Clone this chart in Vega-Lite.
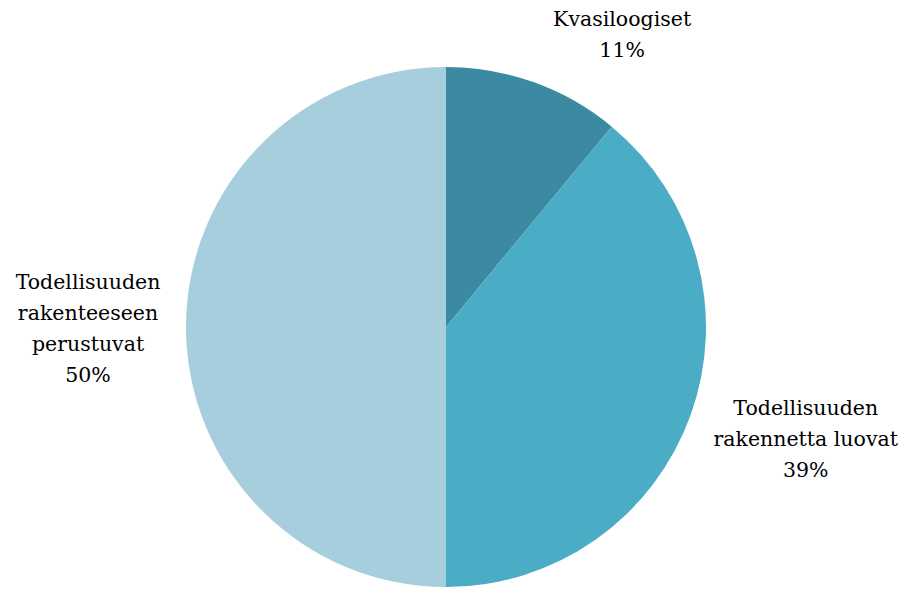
{
  "$schema": "https://vega.github.io/schema/vega-lite/v6.json",
  "width": 892,
  "height": 526,
  "autosize": {"type": "none"},
  "padding": {"left": 0, "top": 64, "right": 11, "bottom": 0},
  "background": "white",
  "config": {"view": {"stroke": null}},
  "data": {
    "values": [
      {"category": "Kvasiloogiset", "name": "Kvasiloogiset", "value": 11, "order": 1},
      {"category": "Todellisuuden rakennetta luovat", "name": "Todellisuuden\nrakennetta luovat", "value": 39, "order": 2},
      {"category": "Todellisuuden rakenteeseen perustuvat", "name": "Todellisuuden\nrakenteeseen\nperustuvat", "value": 50, "order": 3}
    ]
  },
  "transform": [
    {"stack": "value", "groupby": [], "sort": [{"field": "order"}], "as": ["v0", "v1"]},
    {"calculate": "(datum.v0 + datum.v1) / 2", "as": "mid"},
    {"calculate": "datum.name + '\\n' + datum.value + '%'", "as": "label"}
  ],
  "layer": [
    {
      "mark": {"type": "arc", "radius": 260},
      "encoding": {
        "theta": {"field": "v0", "type": "quantitative", "scale": {"domain": [0, 100]}},
        "theta2": {"field": "v1"},
        "color": {
          "field": "category",
          "type": "nominal",
          "legend": null,
          "scale": {
            "domain": ["Kvasiloogiset", "Todellisuuden rakennetta luovat", "Todellisuuden rakenteeseen perustuvat"],
            "range": ["#3B8AA1", "#4BACC6", "#A6CEDC"]
          }
        }
      }
    },
    {
      "transform": [{"filter": "datum.order == 1"}],
      "mark": {"type": "text", "radius": 331, "dx": 64, "dy": 4, "lineBreak": "\n", "font": "DejaVu Serif", "fontSize": 20.5, "lineHeight": 31, "baseline": "middle", "align": "center", "color": "#000000"},
      "encoding": {
        "theta": {"field": "mid", "type": "quantitative"},
        "text": {"field": "label"}
      }
    },
    {
      "transform": [{"filter": "datum.order == 2"}],
      "mark": {"type": "text", "radius": 377, "dx": 5, "dy": -46, "lineBreak": "\n", "font": "DejaVu Serif", "fontSize": 20.5, "lineHeight": 31, "baseline": "middle", "align": "center", "color": "#000000"},
      "encoding": {
        "theta": {"field": "mid", "type": "quantitative"},
        "text": {"field": "label"}
      }
    },
    {
      "transform": [{"filter": "datum.order == 3"}],
      "mark": {"type": "text", "radius": 358, "dx": 0, "dy": -44, "lineBreak": "\n", "font": "DejaVu Serif", "fontSize": 20.5, "lineHeight": 31, "baseline": "middle", "align": "center", "color": "#000000"},
      "encoding": {
        "theta": {"field": "mid", "type": "quantitative"},
        "text": {"field": "label"}
      }
    }
  ]
}
